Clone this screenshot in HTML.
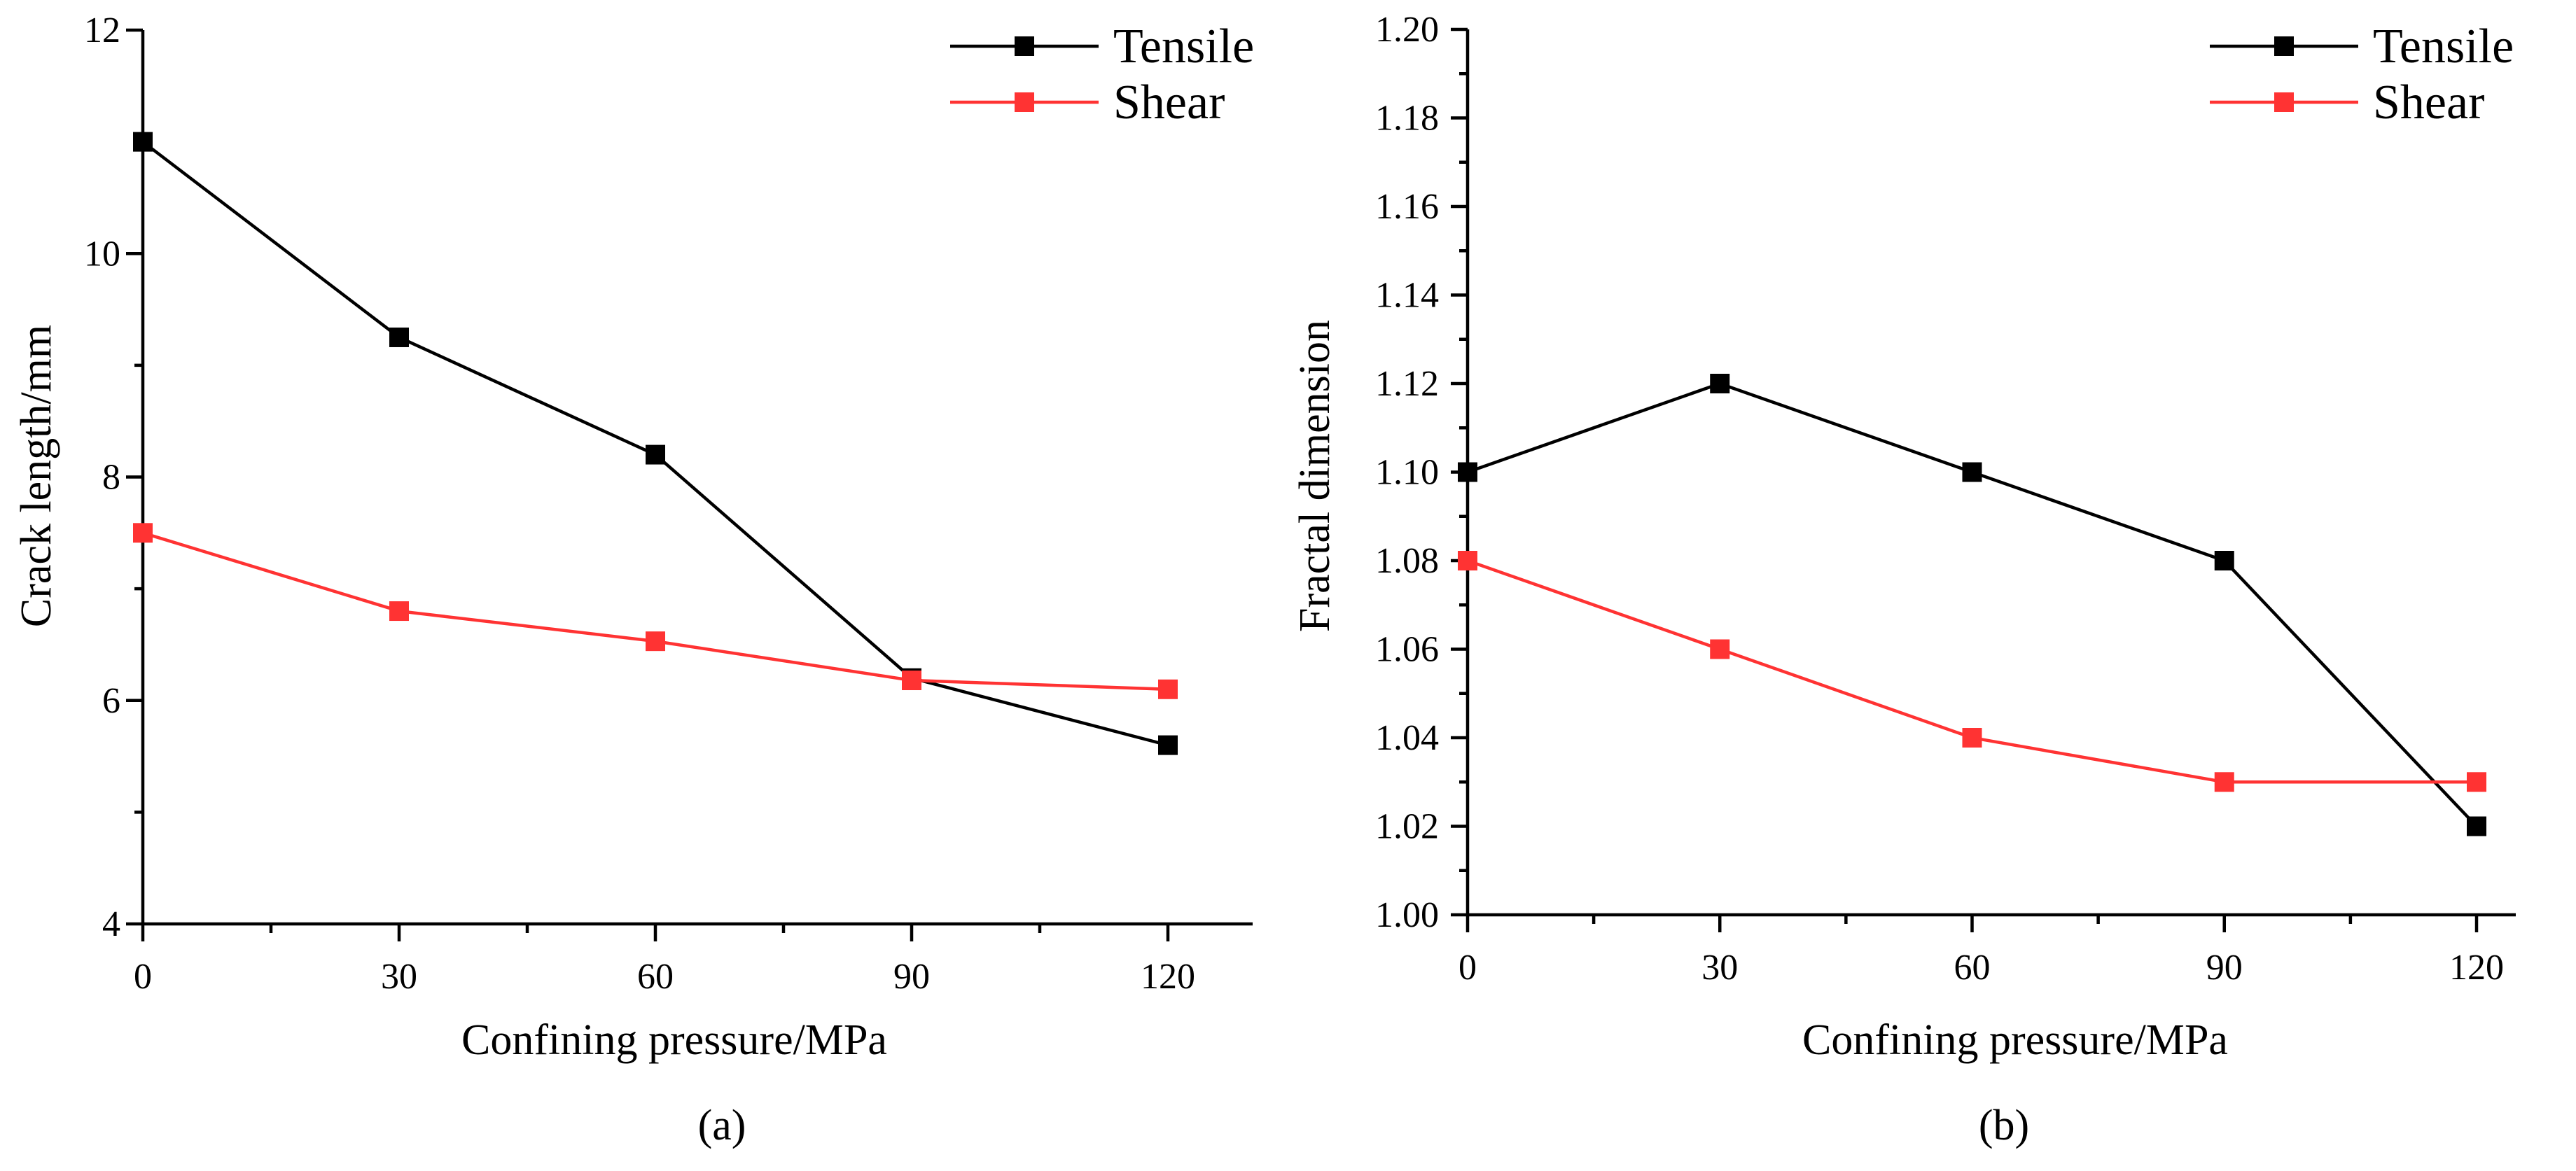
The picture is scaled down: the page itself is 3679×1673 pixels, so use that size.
<!DOCTYPE html>
<html><head><meta charset="utf-8">
<style>
html,body{margin:0;padding:0;background:#fff;}
svg{display:block;}
svg text{font-family:"Liberation Serif","DejaVu Serif",serif;}
</style></head>
<body>
<svg id="chart" width="3679" height="1673" viewBox="0 0 3679 1673" xmlns="http://www.w3.org/2000/svg"></svg>
<script>
const categories = [0, 30, 60, 90, 120];
const tensileLength = [11.0, 9.25, 8.2, 6.2, 5.6];
const shearLength = [7.5, 6.8, 6.53, 6.18, 6.1];
const tensileFractal = [1.10, 1.12, 1.10, 1.08, 1.02];
const shearFractal = [1.08, 1.06, 1.04, 1.03, 1.03];
const yTicksA = [4, 6, 8, 10, 12];
const yTicksB = [1.00, 1.02, 1.04, 1.06, 1.08, 1.10, 1.12, 1.14, 1.16, 1.18, 1.20];
const xTicks = [0, 30, 60, 90, 120];

const NS = "http://www.w3.org/2000/svg";
const svg = document.getElementById('chart');
function mk(tag, attrs, parent, text){
  const e = document.createElementNS(NS, tag);
  for (const k in attrs) e.setAttribute(k, attrs[k]);
  if (text !== undefined) e.textContent = text;
  (parent || svg).appendChild(e);
  return e;
}
const FF = '"Liberation Serif", "DejaVu Serif", serif';

function panel(cfg){
  const g = mk('g', {});
  
  
  const X = v => cfg.x0 + v / 120 * (cfg.x120 - cfg.x0);
  const Y = v => cfg.yB + (v - cfg.yMin) / (cfg.yMax - cfg.yMin) * (cfg.yT - cfg.yB);
  const ax = mk('path', {d:`M${cfg.x0} ${cfg.yT} L${cfg.x0} ${cfg.yB} L${cfg.xEnd} ${cfg.yB}`, fill:'none', stroke:'#000', 'stroke-width':4.5}, g);
  
  
  cfg.yTicks.forEach((t, i) => {
    const y = Y(t);
    mk('line', {x1:cfg.x0-24, y1:y, x2:cfg.x0, y2:y, stroke:'#000','stroke-width':4.5}, g);
    if (i < cfg.yTicks.length - 1) {
      const ym = Y(t + cfg.minor);
      mk('line', {x1:cfg.x0-12, y1:ym, x2:cfg.x0, y2:ym, stroke:'#000','stroke-width':4.5}, g);
    }
    const lb = mk('text', {x:cfg.labelRight, y:y+17, 'text-anchor':'end', 'font-size':52, fill:'#000', 'font-family':FF}, g, cfg.fmt(t));
    
    
  });
  xTicks.forEach(t => {
    const x = X(t);
    mk('line', {x1:x, y1:cfg.yB, x2:x, y2:cfg.yB+25, stroke:'#000','stroke-width':4.5}, g);
    const xm = X(t + 15);
    if (xm < cfg.xEnd) mk('line', {x1:xm, y1:cfg.yB, x2:xm, y2:cfg.yB+13, stroke:'#000','stroke-width':4.5}, g);
    const lb = mk('text', {x:x, y:cfg.yB+92, 'text-anchor':'middle', 'font-size':52, fill:'#000', 'font-family':FF}, g, String(t));
    
    
  });
  const xt = mk('text', {x:cfg.xTitleX, y:1506, 'text-anchor':'middle', 'font-size':62, fill:'#000', 'font-family':FF}, g, 'Confining pressure/MPa');
  
  
  const yt = mk('text', {x:0, y:0, 'text-anchor':'middle', 'font-size':62, fill:'#000', 'font-family':FF, transform:`translate(${cfg.yTitleX},${cfg.yTitleY}) rotate(-90)`}, g, cfg.yTitle);
  
  
  const cap = mk('text', {x:cfg.capX, y:1628, 'text-anchor':'middle', 'font-size':62, fill:'#000', 'font-family':FF}, g, cfg.caption);
  
  
  cfg.series.forEach(s => {
    const pts = categories.map((c, i) => `${X(c)},${Y(s.values[i])}`).join(' ');
    const ln = mk('polyline', {points:pts, fill:'none', stroke:s.color, 'stroke-width':4.5}, g);
    
    
    categories.forEach((c, i) => {
      const m = mk('rect', {x:X(c)-14, y:Y(s.values[i])-14, width:28, height:28, fill:s.color}, g);
      
      
    });
  });
  cfg.series.forEach((s, i) => {
    const ly = cfg.legY + i * 80;
    const lg = mk('g', {}, g);
    
    
    mk('line', {x1:cfg.legX, y1:ly, x2:cfg.legX+212, y2:ly, stroke:s.color, 'stroke-width':4.5}, lg);
    mk('rect', {x:cfg.legX+92, y:ly-14, width:28, height:28, fill:s.color}, lg);
    mk('text', {x:cfg.legX+233, y:ly+23, 'font-size':70, fill:'#000', 'font-family':FF}, lg, s.label);
  });
}

panel({name:'panel-a-crack-length', x0:204, x120:1668, xEnd:1789, yB:1320, yT:43, yMin:4, yMax:12, minor:1,
  yTicks:yTicksA, fmt:t=>String(t), labelRight:172, xTitleX:963, capX:1031, yTitleX:72, yTitleY:680,
  yTitle:'Crack length/mm', caption:'(a)', legX:1357, legY:66,
  series:[{key:'tensile', label:'Tensile', color:'#000', values:tensileLength},
          {key:'shear', label:'Shear', color:'#ff3333', values:shearLength}]});
panel({name:'panel-b-fractal-dimension', x0:2096, x120:3537, xEnd:3593, yB:1307, yT:42, yMin:1.0, yMax:1.2, minor:0.01,
  yTicks:yTicksB, fmt:t=>t.toFixed(2), labelRight:2055, xTitleX:2878, capX:2862, yTitleX:1898, yTitleY:680,
  yTitle:'Fractal dimension', caption:'(b)', legX:3156, legY:66,
  series:[{key:'tensile', label:'Tensile', color:'#000', values:tensileFractal},
          {key:'shear', label:'Shear', color:'#ff3333', values:shearFractal}]});
</script>
</body></html>
